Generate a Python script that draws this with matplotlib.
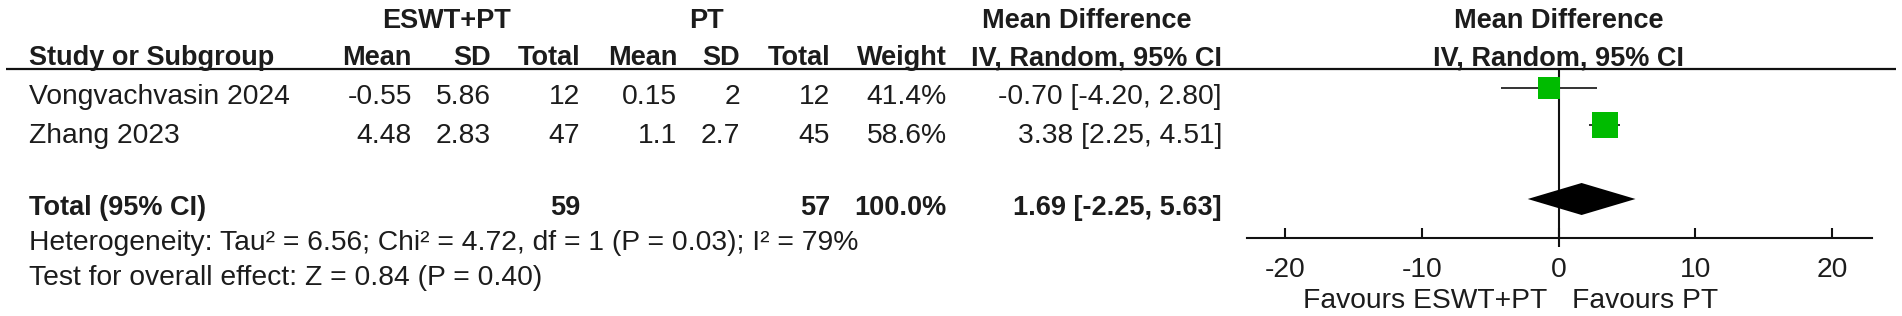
import matplotlib
matplotlib.use("Agg")
import matplotlib.pyplot as plt
import numpy as np

plt.rcParams['font.family'] = ['Liberation Sans', 'DejaVu Sans']
plt.rcParams['axes.unicode_minus'] = False

# ---------------- data ----------------
studies = ["Vongvachvasin 2024", "Zhang 2023"]
exp_mean = [-0.55, 4.48]
exp_sd = [5.86, 2.83]
exp_n = [12, 47]
ctl_mean = [0.15, 1.1]
ctl_sd = [2, 2.7]
ctl_n = [12, 45]
weights = [41.4, 58.6]
md = [-0.70, 3.38]
ci_lo = [-4.20, 2.25]
ci_hi = [2.80, 4.51]

total_label = "Total (95% CI)"
total_exp_n = 59
total_ctl_n = 57
total_weight = 100.0
total_md = 1.69
total_lo = -2.25
total_hi = 5.63

heterogeneity = "Heterogeneity: Tau\u00b2 = 6.56; Chi\u00b2 = 4.72, df = 1 (P = 0.03); I\u00b2 = 79%"
overall = "Test for overall effect: Z = 0.84 (P = 0.40)"

exp_label = "ESWT+PT"
ctl_label = "PT"
col_headers = ["Mean", "SD", "Total", "Mean", "SD", "Total", "Weight"]
xticks = [-20, -10, 0, 10, 20]
fav_left = "Favours ESWT+PT"
fav_right = "Favours PT"

# ---------------- layout ----------------
W, H = 1902, 316
TXT = '#1c1c1c'
GREEN = '#00bb00'
FS = 20.3
FSB = 19.5

fig = plt.figure(figsize=(W / 100, H / 100), dpi=100)
ax_t = fig.add_axes([0, 0, 1, 1])
ax_t.set_xlim(0, W)
ax_t.set_ylim(H, 0)
ax_t.axis('off')

# column right edges (pixels)
col_x = [412, 491, 580, 677, 740, 830, 947]
ci_x = 1222
left_x = 29

y_grp = 28
y_hdr = 65
y_rows = [104, 143]
y_total = 215
y_het = 250
y_test = 285

# group headers
ax_t.text(446, y_grp, exp_label, ha='center', va='baseline', fontsize=FSB, fontweight='bold', color=TXT)
ax_t.text(706, y_grp, ctl_label, ha='center', va='baseline', fontsize=FSB, fontweight='bold', color=TXT)
ax_t.text(1087, y_grp, "Mean Difference", ha='center', va='baseline', fontsize=FSB, fontweight='bold', color=TXT)

# column headers
ax_t.text(left_x, y_hdr, "Study or Subgroup", ha='left', va='baseline', fontsize=FSB, fontweight='bold', color=TXT)
for x, h in zip(col_x, col_headers):
    ax_t.text(x, y_hdr, h, ha='right', va='baseline', fontsize=FSB, fontweight='bold', color=TXT)
ax_t.text(ci_x, y_hdr, "IV, Random, 95% CI", ha='right', va='baseline', fontsize=FSB, fontweight='bold', color=TXT)

# header rule
ax_t.hlines(69, 6, 1896, color='#111111', lw=1.6)

# study rows
for i, s in enumerate(studies):
    y = y_rows[i]
    vals = [f"{exp_mean[i]:g}", f"{exp_sd[i]:g}", f"{exp_n[i]}",
            f"{ctl_mean[i]:g}", f"{ctl_sd[i]:g}", f"{ctl_n[i]}",
            f"{weights[i]:.1f}%"]
    ax_t.text(left_x, y, s, ha='left', va='baseline', fontsize=FS, color=TXT)
    for x, v in zip(col_x, vals):
        ax_t.text(x, y, v, ha='right', va='baseline', fontsize=FS, color=TXT)
    ax_t.text(ci_x, y, f"{md[i]:.2f} [{ci_lo[i]:.2f}, {ci_hi[i]:.2f}]",
              ha='right', va='baseline', fontsize=FS, color=TXT)

# total row
ax_t.text(left_x, y_total, total_label, ha='left', va='baseline', fontsize=FSB, fontweight='bold', color=TXT)
ax_t.text(col_x[2], y_total, f"{total_exp_n}", ha='right', va='baseline', fontsize=FSB, fontweight='bold', color=TXT)
ax_t.text(col_x[5], y_total, f"{total_ctl_n}", ha='right', va='baseline', fontsize=FSB, fontweight='bold', color=TXT)
ax_t.text(col_x[6], y_total, f"{total_weight:.1f}%", ha='right', va='baseline', fontsize=FSB, fontweight='bold', color=TXT)
ax_t.text(ci_x, y_total, f"{total_md:.2f} [{total_lo:.2f}, {total_hi:.2f}]",
          ha='right', va='baseline', fontsize=FSB, fontweight='bold', color=TXT)

ax_t.text(left_x, y_het, heterogeneity, ha='left', va='baseline', fontsize=FS, color=TXT)
ax_t.text(left_x, y_test, overall, ha='left', va='baseline', fontsize=FS, color=TXT)

# ---------------- forest axes ----------------
X0 = 1558.5
PPU = 13.675
FX0, FX1 = 1200, 1900
ax_f = fig.add_axes([FX0 / W, 0, (FX1 - FX0) / W, 1])
ax_f.patch.set_visible(False)
ax_f.set_xlim((FX0 - X0) / PPU, (FX1 - X0) / PPU)
ax_f.set_ylim(H, 0)
for sp in ['top', 'left', 'right']:
    ax_f.spines[sp].set_visible(False)
ax_f.spines['bottom'].set_position(('data', 238))
ax_f.spines['bottom'].set_bounds((1247 - X0) / PPU, (1872 - X0) / PPU)
ax_f.spines['bottom'].set_linewidth(1.5)
ax_f.spines['bottom'].set_color('#111111')
ax_f.set_yticks([])
ax_f.set_xticks(xticks)
ax_f.set_xticklabels([str(t) for t in xticks])
ax_f.tick_params(axis='x', direction='in', length=7.2, width=1.5, pad=13.5,
                 labelsize=FS, colors='#111111', labelcolor=TXT)

# right headers
ax_f.text(0, y_grp, "Mean Difference", ha='center', va='baseline', fontsize=FSB, fontweight='bold', color=TXT)
ax_f.text(0, y_hdr, "IV, Random, 95% CI", ha='center', va='baseline', fontsize=FSB, fontweight='bold', color=TXT)

# zero line
ax_f.vlines(0, 69, 247, color='#111111', lw=1.5)

# study markers
mark_y = [87.5, 125]
k = 26 / np.sqrt(58.6)
for i in range(len(studies)):
    ax_f.hlines(mark_y[i], ci_lo[i], ci_hi[i], color='#111111', lw=1.2, zorder=2)
    size_px = k * np.sqrt(weights[i])
    ax_f.plot(md[i], mark_y[i], marker='s', markersize=size_px * 0.72,
              color=GREEN, markeredgewidth=0, linestyle='none', zorder=3)

# diamond
dy = 199
ax_f.fill([total_lo, total_md, total_hi, total_md], [dy, dy - 16, dy, dy + 16],
          color='black', lw=0, zorder=3)

# favours labels
ax_t.text(1547, 308, fav_left, ha='right', va='baseline', fontsize=FS, color=TXT)
ax_t.text(1572, 308, fav_right, ha='left', va='baseline', fontsize=FS, color=TXT)

fig.savefig("out.png", dpi=100)
